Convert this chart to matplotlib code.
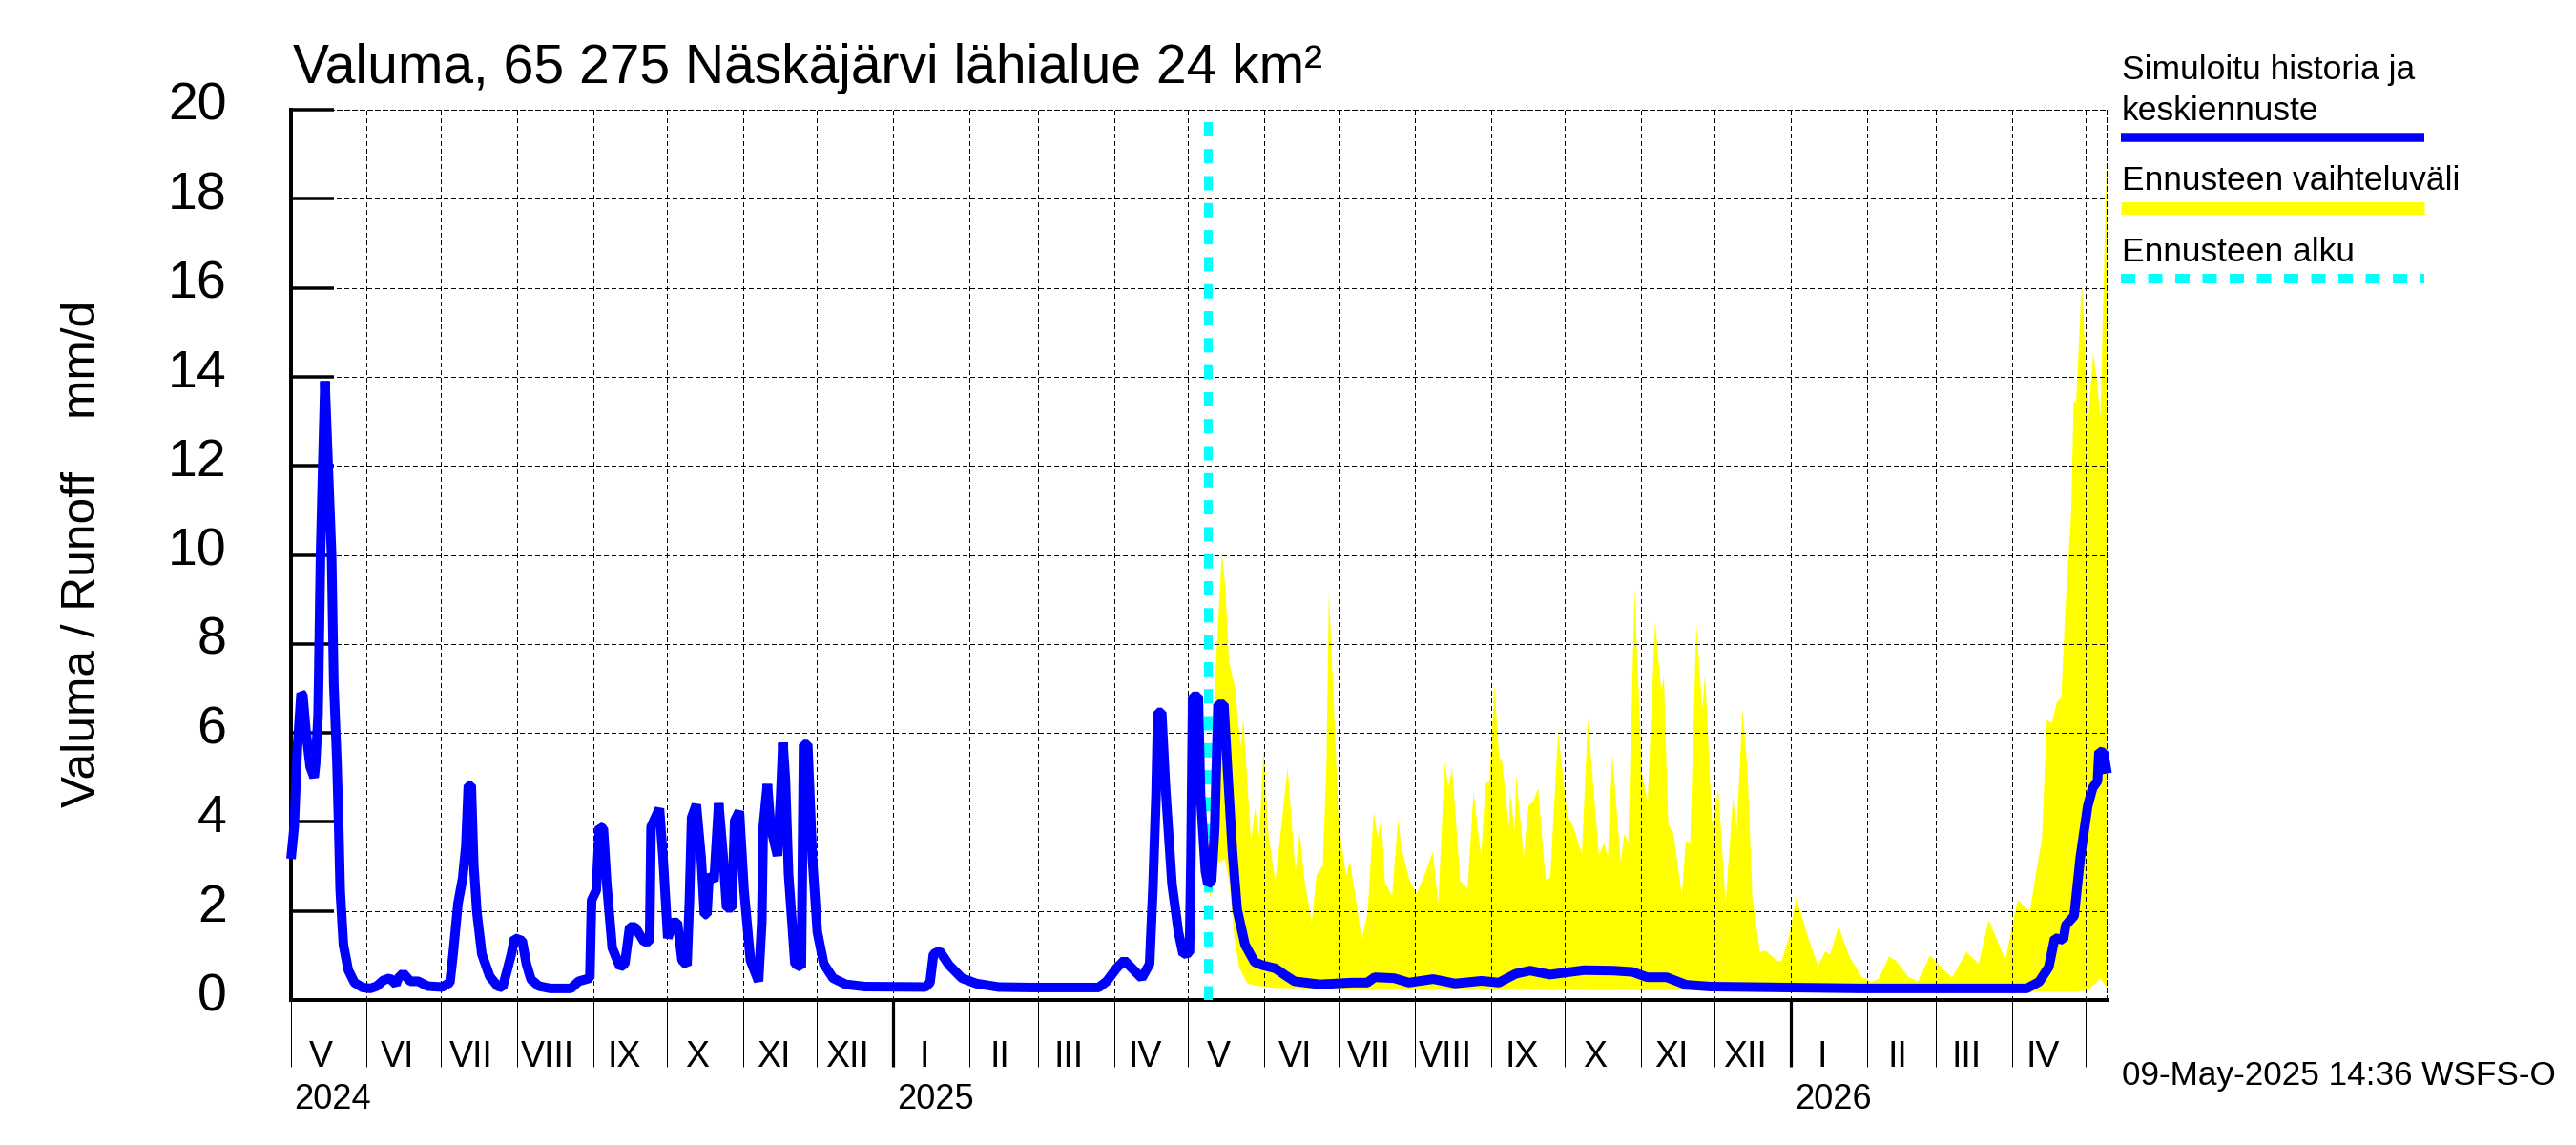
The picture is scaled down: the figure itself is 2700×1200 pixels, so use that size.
import matplotlib
matplotlib.use("Agg")
import matplotlib.pyplot as plt
import numpy as np
import pandas as pd
from matplotlib.lines import Line2D
from matplotlib.transforms import ScaledTranslation

plt.rcParams['font.family'] = ['Liberation Sans', 'DejaVu Sans']

# days counted from 2024-05-01
sim_days = [0.2,1.5,2.8,4.3,5.0,6.3,8,9.6,10.2,11.2,11.4,12.2,13.1,14,15.3,16.7,17.6,18.9,19.6,20.2,21.5,23.5,26,29.3,32.5,35.1,37.7,40.3,42.9,43.8,45.8,48.7,51.9,55.8,61.6,64.8,66.1,68.1,70,71.3,72.3,73.5,74.5,75.8,77.8,81,84.2,86.2,88.1,89.8,91.1,94.2,95.9,97.8,101,105.6,114,117.2,121.7,122.4,124.3,125.6,127.2,128.6,130.8,134,135.9,137.9,140.1,143.7,146,146.6,150,151.5,153.4,155.3,157.3,159.2,161.2,162.2,163.1,165,167,168.3,169.3,170.2,172.2,174.1,176,177.3,179.5,180.6,182.5,184.4,187,190.3,191.6,192.2,193.9,195.2,198,199.3,200.2,201.2,202.5,205.1,207.7,208.6,210.3,212.2,214.2,216.8,220.6,225.8,233.6,258.1,260,261.4,263.9,267.8,273,278.8,287.9,300.8,328.6,331.9,335.8,339,342.2,346.1,349.3,350.6,351.9,352.6,354.2,355.8,358.4,361,362.9,365.5,366.1,366.8,369.1,370,372,373,374.5,375.8,377.1,379.5,381,383,384.9,388.1,392,395.2,400.4,404.3,408.2,418.5,431.4,437.8,440.8,448.7,454.7,464.6,473.5,484.3,491.3,498.2,504,512,525.9,537.8,545.7,551.6,559.5,567.5,577.4,593,638,706,711,714.9,717.3,720.8,721.8,725.2,727.7,730.7,732.7,734.7,735.3,737.2,738.6]
sim_vals = [3.17,3.89,5.67,6.89,6.85,6.03,5.24,5.0,5.3,6.39,7.0,10.0,12.0,13.9,12.0,10.0,7.1,5.3,3.89,2.46,1.24,0.67,0.39,0.28,0.26,0.31,0.44,0.49,0.35,0.49,0.6,0.42,0.42,0.31,0.29,0.39,1.03,2.17,2.74,3.46,4.82,4.82,3.03,1.96,1.03,0.53,0.31,0.28,0.67,1.03,1.39,1.33,0.81,0.46,0.31,0.26,0.26,0.42,0.49,2.24,2.46,3.89,3.85,2.6,1.17,0.74,0.81,1.64,1.64,1.31,1.31,3.89,4.3,3.17,1.39,1.74,1.74,0.89,0.78,2.24,4.1,4.39,3.17,1.92,1.92,2.82,2.67,4.42,3.17,2.07,2.07,4.03,4.24,2.46,0.89,0.42,1.74,3.89,4.85,3.89,3.24,4.6,5.78,4.96,2.82,0.81,0.74,5.74,5.74,3.17,1.53,0.81,0.49,0.35,0.3,0.29,0.39,1.03,1.1,0.78,0.49,0.37,0.29,0.28,0.28,0.42,0.71,0.89,0.71,0.49,0.81,2.46,4.6,6.46,6.46,4.74,2.6,1.53,1.03,1.06,3.17,6.82,6.82,4.6,2.89,2.6,2.67,3.89,6.64,6.64,5.17,3.32,2.03,1.24,0.85,0.78,0.71,0.56,0.42,0.35,0.39,0.39,0.51,0.49,0.39,0.47,0.37,0.43,0.39,0.59,0.66,0.57,0.67,0.66,0.63,0.51,0.51,0.34,0.3,0.29,0.26,0.26,0.41,0.74,1.39,1.35,1.68,1.89,3.2,4.35,4.76,4.92,5.58,5.56,5.09]

upper_days = [373.5,375,376,378.5,379.9,381.4,383.9,385.5,386.2,387.2,388.8,390.3,392,393.6,395.5,397.4,400.2,402.3,405.2,408.4,410.1,412,415,417,419.5,421,422,424,426,429,430.5,432.9,435.3,437.8,440.2,441.8,443.4,444.8,447.7,450.1,451.7,454.7,457.6,460.2,464.2,466.5,469.1,470.5,472.1,475.4,478.4,480.8,483.9,485.7,487.3,489.3,491.3,492.3,495.2,495.6,497.4,498.2,501.2,503.1,505.1,507.1,510.1,512,515.2,519,521,524.9,527.3,531.8,533.8,535.4,537.2,540.7,542.1,543.7,546.3,549.3,551.6,554.6,557.2,558.2,560,562.1,565.5,567.1,568.9,571.4,573.8,575,577.8,580.3,583.3,586.3,587.8,590.2,592.2,594.2,597.2,599.5,604,606,609,612,616.9,620.9,623.8,625.8,629.2,633.7,638.7,642.6,645.6,649.6,652.5,657.5,661.5,666.4,670.4,675.3,681.2,686.2,690.2,697.1,702,707,710,711.9,713.9,715.9,717.9,719.8,721.4,723.8,724.8,725.8,726.8,728.1,729.7,730.7,732.7,734.1,735.7,737,738.2]
upper_vals = [2.3,5.0,7.5,10.06,9.3,7.6,7.03,6.03,5.71,6.35,4.96,3.57,4.32,3.67,5.67,3.74,2.67,3.74,5.24,2.89,3.78,2.74,1.74,2.82,3.03,5.3,9.2,6.66,3.95,2.8,3.13,2.31,1.37,1.98,4.24,3.67,4.12,2.64,2.35,4.08,3.38,2.72,2.4,2.72,3.34,2.19,5.35,4.77,5.23,2.68,2.52,4.69,3.22,4.86,4.94,7.07,5.43,5.43,3.87,4.73,3.79,5.06,3.22,4.36,4.48,4.77,2.72,2.76,6.05,4.12,3.95,3.3,6.33,3.26,3.54,3.22,5.55,3.09,3.75,3.54,9.24,5.1,4.45,8.5,6.95,7.28,3.95,3.75,2.35,3.58,3.54,8.47,6.54,7.36,3.95,4.77,2.19,4.57,3.87,6.54,5.18,2.31,1.08,1.12,0.9,0.88,1.41,2.31,1.41,0.78,1.1,1.03,1.66,0.98,0.53,0.41,0.49,0.98,0.9,0.53,0.43,1.01,0.78,0.51,1.09,0.82,1.8,0.92,2.26,2.0,3.04,3.6,6.3,6.23,6.69,6.8,8.78,10.98,13.44,13.44,14.58,16.16,14.26,13.03,14.54,14.0,13.1,16.1,18.85]

lower_days = [373.5,375.5,377.1,379.7,381.7,383.6,385.5,388.8,391.4,400.4,500,620,700,725,729.7,731.7,735.7,738.3]
lower_vals = [2.27,2.8,3.1,3.17,2.6,1.39,0.74,0.39,0.34,0.28,0.24,0.22,0.2,0.2,0.22,0.29,0.49,0.29]

forecast_start_day = 373
y_ticks = [0,2,4,6,8,10,12,14,16,18,20]
month_labels = ['V','VI','VII','VIII','IX','X','XI','XII','I','II','III','IV']
year_labels = ['2024','2025','2026']
title = 'Valuma, 65 275 Näskäjärvi lähialue 24 km²'
ylabel = 'Valuma / Runoff    mm/d'
legend_line1 = 'Simuloitu historia ja'
legend_line2 = 'keskiennuste'
legend_range = 'Ennusteen vaihteluväli'
legend_start = 'Ennusteen alku'
stamp = '09-May-2025 14:36 WSFS-O'

W, H = 2700, 1200
PX = 0.72  # points per pixel at dpi 100
fig = plt.figure(figsize=(W/100, H/100), dpi=100, facecolor='white')
L, R, T, B = 304.5, 2207.5, 115, 1048
ax = fig.add_axes([L/W, 1-B/H, (R-L)/W, (B-T)/H])
ax.set_xlim(0, 738.2)
ax.set_ylim(0, 20)
ax.set_axisbelow(True)

t0 = pd.Timestamp('2024-05-01')
months = pd.date_range('2024-05-01', '2026-05-01', freq='MS')
month_days = [(m - t0).days for m in months]

all_days = sorted(set(upper_days) | set(lower_days))
ax.fill_between(all_days, np.interp(all_days, lower_days, lower_vals), np.interp(all_days, upper_days, upper_vals),
                color='#ffff00', lw=0, zorder=0.2)

grid_ls = (0, (5, 3))
ax.set_xticks(month_days)
ax.set_yticks(y_ticks)
ax.set_xticklabels([])
ax.set_yticklabels([str(v) for v in y_ticks], fontsize=40)
ax.grid(True, color='black', lw=PX, ls=grid_ls, antialiased=False)
ax.tick_params(axis='y', direction='in', length=45*PX, width=3.5*PX, pad=67*PX, color='black')
ax.tick_params(axis='x', direction='out', length=70*PX, width=1*PX, color='black')
for tick, m in zip(ax.xaxis.get_major_ticks(), months):
    if m.month == 1:
        tick.tick1line.set_markeredgewidth(3.2*PX)
shift = ScaledTranslation(0, 9/100, fig.dpi_scale_trans)
for lab in ax.get_yticklabels():
    lab.set_transform(lab.get_transform() + shift)

for s in ['top', 'right']:
    ax.spines[s].set_linewidth(PX)
    ax.spines[s].set_linestyle(grid_ls)
ax.spines['left'].set_linewidth(4*PX)
ax.spines['bottom'].set_linewidth(4*PX)

ax.plot([forecast_start_day]*2, [0, 19.8], color='#00ffff', lw=9*PX, ls=(0, (15/9, 13.3/9)),
        dash_capstyle='butt', zorder=3)
ax.plot(sim_days, sim_vals, color='#0000ff', lw=10*PX, solid_joinstyle='bevel', solid_capstyle='butt',
        clip_on=False, zorder=4)

xt = ax.get_xaxis_transform()
for d, m in zip(month_days[:-1], months[:-1]):
    ax.text(d + 12.5, -0.0643, month_labels[(m.month - 5) % 12],
            transform=xt, ha='center', va='center', fontsize=27)
for lab, d in zip(year_labels, [0, 245, 610]):
    ax.text(d + 1.6, -0.1125, lab, transform=xt, ha='left', va='center', fontsize=26)

fig.text(307/W, 1-87/H, title, fontsize=41, ha='left', va='baseline')
fig.text(87/W, 1-580/H, ylabel, fontsize=35.7, rotation=90, ha='center', va='center')

def px_line(x0, x1, y, **kw):
    fig.add_artist(Line2D([x0/W, x1/W], [1-y/H, 1-y/H], transform=fig.transFigure, **kw))

fig.text(2224/W, 1-83/H, legend_line1, fontsize=25.5, ha='left', va='baseline')
fig.text(2224/W, 1-126/H, legend_line2, fontsize=25.5, ha='left', va='baseline')
px_line(2223, 2541, 143.5, color='#0000ff', lw=9.5*PX, solid_capstyle='butt')
fig.text(2224/W, 1-199/H, legend_range, fontsize=25.5, ha='left', va='baseline')
px_line(2223, 2541, 217.5, color='#ffff00', lw=13*PX, solid_capstyle='butt')
fig.text(2224/W, 1-274/H, legend_start, fontsize=25.5, ha='left', va='baseline')
px_line(2223, 2541, 292, color='#00ffff', lw=10*PX, ls=(0, (1.5, 1.35)), dash_capstyle='butt')
fig.text(2224/W, 1-1127/H, stamp, fontsize=25.3, ha='left', va='center')

fig.savefig('out.png', dpi=100, facecolor='white')
